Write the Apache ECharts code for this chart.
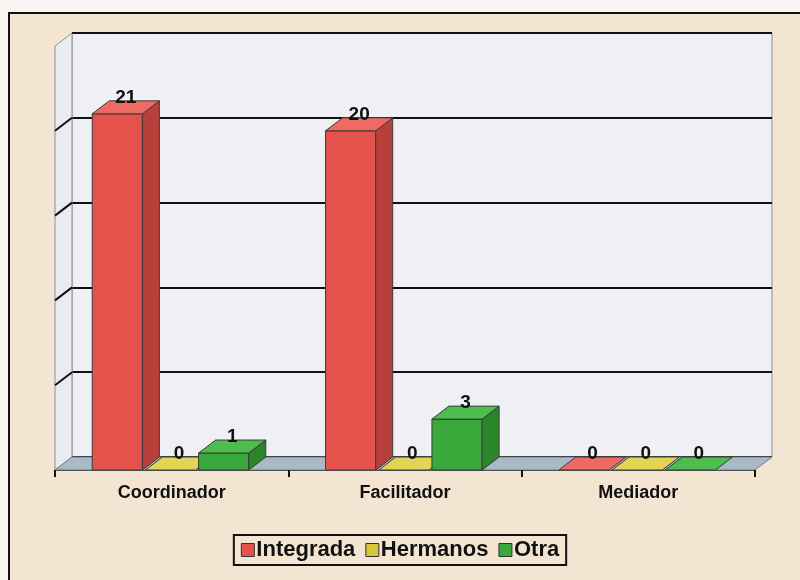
<!DOCTYPE html>
<html>
<head>
<meta charset="utf-8">
<script src="https://cdn.jsdelivr.net/npm/echarts@6/dist/echarts.min.js"></script>
<style>
  html, body { margin: 0; padding: 0; background: #f7f4f1; }
  .frame {
    position: absolute; left: 8px; top: 12px; width: 800px; height: 580px;
    background: #f4e5d2; border-left: 2px solid #111; border-top: 2px solid #111;
  }
  #chart { position: absolute; left: 0; top: 0; width: 800px; height: 580px; }
</style>
</head>
<body>
<div class="frame"></div>
<div id="chart"></div>
<script>
// datos
const categorias = ["Coordinador", "Facilitador", "Mediador"];
const integrada = [21, 20, 0];
const hermanos = [0, 0, 0];
const otra = [1, 3, 0];
const lineasY = [5, 10, 15, 20];

const DX = 17, DY = 13; // profundidad 3D
const colores = [
  { front: "#e5524b", side: "#b8403b", top: "#ee6a62" },
  { front: "#d6c63c", side: "#aa9c2c", top: "#e2d455" },
  { front: "#3ba83b", side: "#2b862b", top: "#4dbd4d" },
];

const chart = echarts.init(document.getElementById("chart"));

// barra con efecto 3d
function barra3d(idx) {
  return function (params, api) {
    const cat = api.value(0);
    const v = api.value(1);
    const band = api.size([1, 0])[0];
    const w = band * 0.215;
    const off = (idx - 1) * band * 0.228 - band * 0.005;
    const top = api.coord([cat, v]);
    const base = api.coord([cat, 0]);
    const x0 = top[0] + off - w / 2, x1 = x0 + w;
    const yT = top[1], yB = base[1];
    const c = colores[idx];
    const st = { stroke: "#3a3a3a", lineWidth: 1 };
    const children = [];
    if (yB - yT > 0.5) {
      children.push({
        type: "rect",
        shape: { x: x0, y: yT, width: w, height: yB - yT },
        style: Object.assign({ fill: c.front }, st),
      });
      children.push({
        type: "polygon",
        shape: { points: [[x1, yB], [x1 + DX, yB - DY], [x1 + DX, yT - DY], [x1, yT]] },
        style: Object.assign({ fill: c.side }, st),
      });
    }
    children.push({
      type: "polygon",
      shape: { points: [[x0, yT], [x1, yT], [x1 + DX, yT - DY], [x0 + DX, yT - DY]] },
      style: Object.assign({ fill: c.top }, st),
    });
    children.push({
      type: "text",
      style: {
        text: String(v),
        x: x0 + w / 2 + DX / 2,
        y: yT - DY + 6,
        align: "center",
        verticalAlign: "bottom",
        font: "bold 19px 'Liberation Sans', Arial, sans-serif",
        fill: "#111",
      },
    });
    return { type: "group", children: children };
  };
}

// piso y pared izquierda
function decorado(params, api) {
  const cs = params.coordSys;
  const xL = cs.x, xR = cs.x + cs.width, yF = cs.y + cs.height, yTop = cs.y;
  const children = [
    {
      type: "polygon",
      shape: { points: [[xL, yTop], [xL + DX, yTop - DY], [xL + DX, yF - DY], [xL, yF]] },
      style: { fill: "#e9ebf1", stroke: "#8a8f99", lineWidth: 1 },
    },
    {
      type: "polygon",
      shape: { points: [[xL, yF], [xL + DX, yF - DY], [xR + DX, yF - DY], [xR, yF]] },
      style: { fill: "#a9b9c6", stroke: "#6f7b86", lineWidth: 1 },
    },
  ];
  lineasY.forEach(function (t) {
    const p = api.coord([0, t]);
    children.push({
      type: "line",
      shape: { x1: xL, y1: p[1], x2: xL + DX, y2: p[1] - DY },
      style: { stroke: "#111", lineWidth: 2 },
    });
  });
  return { type: "group", children: children };
}

const yComun = { type: "value", min: 0, max: 25, interval: 5 };

const option = {
  animation: false,
  legend: {
    data: ["Integrada", "Hermanos", "Otra"],
    left: "center",
    top: 535,
    icon: "rect",
    itemWidth: 13,
    itemHeight: 13,
    itemGap: 10,
    padding: [4, 7],
    borderColor: "#111",
    borderWidth: 2,
    textStyle: { fontSize: 22, fontWeight: "bold", color: "#111", fontFamily: "'Liberation Sans', Arial, sans-serif", padding: [0, 0, 0, -3] },
    itemStyle: { borderColor: "#333", borderWidth: 1 },
  },
  grid: [
    // pared del fondo
    { left: 72, right: 28, top: 33, bottom: 123, show: true, backgroundColor: "#eff0f3", borderColor: "#8a8f99", borderWidth: 1 },
    // plano frontal
    { left: 55, right: 45, top: 46, bottom: 110 },
  ],
  xAxis: [
    { gridIndex: 0, type: "category", data: categorias, show: false },
    {
      gridIndex: 1,
      type: "category",
      data: categorias,
      axisLine: { lineStyle: { color: "#555", width: 1 } },
      axisTick: { show: true, length: 7, lineStyle: { color: "#111", width: 2 } },
      axisLabel: {
        color: "#111",
        fontSize: 18,
        fontWeight: "bold",
        fontFamily: "'Liberation Sans', Arial, sans-serif",
        margin: 14,
      },
      z: 1,
    },
  ],
  yAxis: [
    Object.assign({ gridIndex: 0, axisLabel: { show: false }, axisLine: { show: false }, axisTick: { show: false },
      splitLine: { lineStyle: { color: "#111", width: 2 } } }, yComun),
    Object.assign({ gridIndex: 1, show: false, splitLine: { show: false } }, yComun),
  ],
  series: [
    {
      type: "custom", name: "decor", xAxisIndex: 1, yAxisIndex: 1,
      renderItem: decorado, data: [[0, 0]], z: 1, silent: true,
    },
    {
      type: "custom", name: "Integrada", xAxisIndex: 1, yAxisIndex: 1,
      itemStyle: { color: colores[0].front },
      renderItem: barra3d(0), data: integrada.map((v, i) => [i, v]), z: 3,
    },
    {
      type: "custom", name: "Hermanos", xAxisIndex: 1, yAxisIndex: 1,
      itemStyle: { color: colores[1].front },
      renderItem: barra3d(1), data: hermanos.map((v, i) => [i, v]), z: 4,
    },
    {
      type: "custom", name: "Otra", xAxisIndex: 1, yAxisIndex: 1,
      itemStyle: { color: colores[2].front },
      renderItem: barra3d(2), data: otra.map((v, i) => [i, v]), z: 5,
    },
  ],
};

chart.setOption(option);
</script>
</body>
</html>
